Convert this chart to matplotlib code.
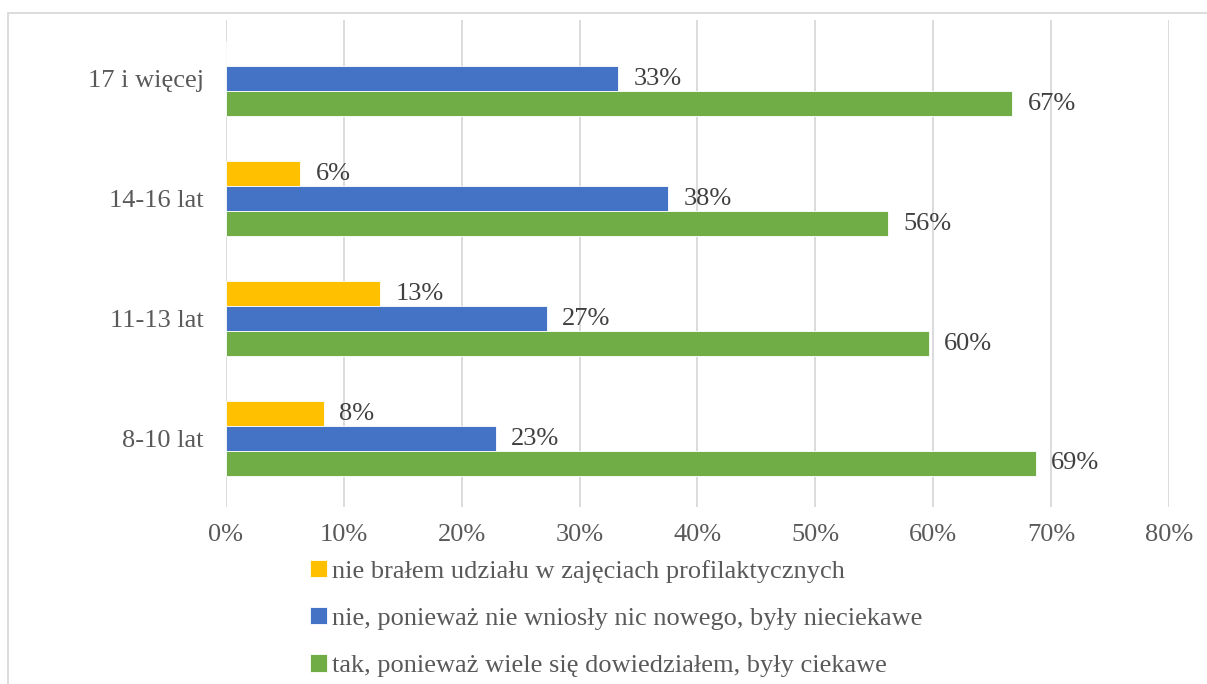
import matplotlib
matplotlib.use('Agg')
import matplotlib.pyplot as plt
import numpy as np
from matplotlib.patches import Rectangle

plt.rc('font', family=['Liberation Serif', 'DejaVu Serif'])

kategorie = ['8-10 lat', '11-13 lat', '14-16 lat', '17 i więcej']
nie_bral = [8.3, 13.1, 6.3, 0.0]
nie_nowe = [22.9, 27.2, 37.5, 33.3]
tak_ciekawe = [68.7, 59.6, 56.2, 66.7]
serie = ['nie brałem udziału w zajęciach profilaktycznych',
         'nie, ponieważ nie wniosły nic nowego, były nieciekawe',
         'tak, ponieważ wiele się dowiedziałem, były ciekawe']
kolory = ['#FFC000', '#4472C4', '#70AD47']
txt = '#595959'

fig = plt.figure(figsize=(12.07, 6.84), dpi=100)
ax = fig.add_axes([0.1872, 0.2588, 0.7813, 0.712])

y = np.arange(len(kategorie))
h = 0.208
dane = [nie_bral, nie_nowe, tak_ciekawe]
offs = [h, 0, -h]
bars = []
for vals, off, c, lab in zip(dane, offs, kolory, serie):
    b = ax.barh(y + off, vals, height=h, color=c, edgecolor='white', linewidth=0.6, label=lab)
    bars.append(b)
    for yi, v in zip(y, vals):
        if v > 0:
            ax.text(v + 1.3, yi + off, f'{round(v):.0f}%', va='center', ha='left',
                    fontsize=19, color='#404040')

ax.set_xlim(0, 80)
ax.set_ylim(-0.571, 3.49)
ax.set_xticks(range(0, 81, 10))
ax.set_xticklabels([f'{v}%' for v in range(0, 81, 10)])
ax.set_yticks(y)
ax.set_yticklabels(kategorie)
ax.tick_params(axis='both', length=0, labelsize=19, labelcolor=txt)
ax.tick_params(axis='x', pad=12)
ax.tick_params(axis='y', pad=16)
ax.grid(axis='x', color='#D9D9D9', linewidth=1.3)
ax.set_axisbelow(True)
for s in ax.spines.values():
    s.set_visible(False)

leg = fig.legend(handles=bars, labels=serie, loc='upper left', bbox_to_anchor=(0.2565, 0.182),
                 frameon=False, fontsize=19, labelcolor=txt, handlelength=0.65, handleheight=0.65,
                 handletextpad=0.2, labelspacing=0.92, borderaxespad=0, borderpad=0)

fig.patches.append(Rectangle((8 / 1207, -0.1), 2.0, 1 - 13 / 684 + 0.1, transform=fig.transFigure,
                             fill=False, edgecolor='#D9D9D9', linewidth=1.3))

fig.savefig('out.png', dpi=100)
